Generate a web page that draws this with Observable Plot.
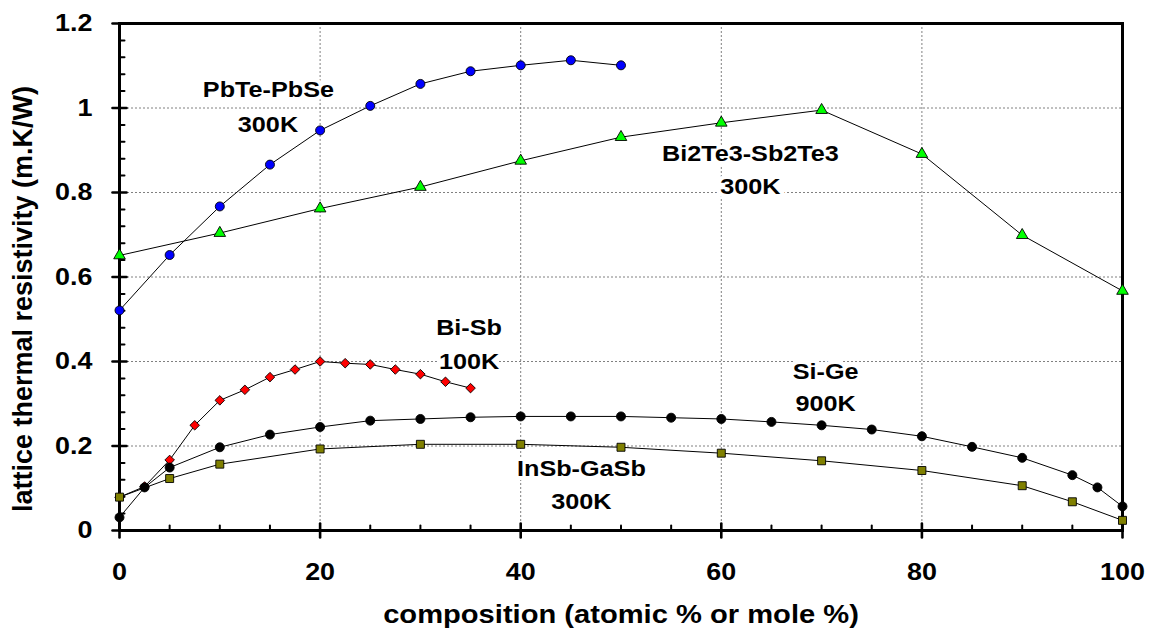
<!DOCTYPE html>
<html>
<head>
<meta charset="utf-8">
<script src="https://cdn.jsdelivr.net/npm/d3@7"></script>
<script src="https://cdn.jsdelivr.net/npm/@observablehq/plot@0.6"></script>
<style>
  body { margin: 0; background: #fff; }
</style>
</head>
<body>
<div id="chart"></div>
<script>
// Lattice thermal resistivity (m.K/W) versus composition for five alloy systems.

// PbTe-PbSe, 300K
const pbteX = [0, 5, 10, 15, 20, 25, 30, 35, 40, 45, 50];
const pbteY = [0.521, 0.652, 0.767, 0.866, 0.947, 1.005, 1.057, 1.087, 1.101, 1.113, 1.101];

// Bi2Te3-Sb2Te3, 300K
const bi2te3X = [0, 10, 20, 30, 40, 50, 60, 70, 80, 90, 100];
const bi2te3Y = [0.651, 0.704, 0.762, 0.813, 0.875, 0.931, 0.965, 0.995, 0.891, 0.699, 0.567];

// Bi-Sb, 100K
const bisbX = [0, 2.5, 5, 7.5, 10, 12.5, 15, 17.5, 20, 22.5, 25, 27.5, 30, 32.5, 35];
const bisbY = [0.079, 0.104, 0.167, 0.249, 0.308, 0.333, 0.363, 0.381, 0.400, 0.396, 0.393, 0.381, 0.370, 0.352, 0.337];

// Si-Ge, 900K
const sigeX = [0, 2.5, 5, 10, 15, 20, 25, 30, 35, 40, 45, 50, 55, 60, 65, 70, 75, 80, 85, 90, 95, 97.5, 100];
const sigeY = [0.031, 0.102, 0.149, 0.197, 0.227, 0.245, 0.260, 0.264, 0.268, 0.270, 0.270, 0.270, 0.267, 0.264, 0.257, 0.249, 0.239, 0.223, 0.198, 0.172, 0.131, 0.102, 0.057];

// InSb-GaSb, 300K
const insbX = [0, 5, 10, 20, 30, 40, 50, 60, 70, 80, 90, 95, 100];
const insbY = [0.079, 0.123, 0.157, 0.193, 0.204, 0.204, 0.197, 0.183, 0.165, 0.142, 0.106, 0.068, 0.024];

// In-plot series annotations (two lines each), placed in data units
const noteText = ["PbTe-PbSe", "300K", "Bi2Te3-Sb2Te3", "300K", "Bi-Sb", "100K", "Si-Ge", "900K", "InSb-GaSb", "300K"];
const noteX = [14.85, 14.8, 62.9, 62.9, 34.85, 34.85, 70.4, 70.4, 46.05, 46.05];
const noteY = [1.044, 0.960, 0.891, 0.813, 0.479, 0.400, 0.376, 0.299, 0.146, 0.067];

// Axis ticks and titles
const xTicks = [0, 20, 40, 60, 80, 100];
const yTicks = [0, 0.2, 0.4, 0.6, 0.8, 1, 1.2];
const xTitle = "composition (atomic % or mole %)";
const yTitle = "lattice thermal resistivity (m.K/W)";

const rows = (xs, ys) => xs.map((x, i) => ({x, y: ys[i]}));
const notes = noteText.map((text, i) => ({text, x: noteX[i], y: noteY[i]}));

// Minor ticks: every 5 % along x, every 0.04 along y
const xMinor = d3.range(5, 100, 5).filter(v => v % 20 !== 0);
const yMinor = d3.range(1, 30).map(i => i * 0.04).filter((v, i) => (i + 1) % 5 !== 0);

// Marker styling per series, drawn in this order
const series = [
  {data: rows(pbteX, pbteY), symbol: "circle", fill: "#0000ff", r: 4.5},
  {data: rows(bi2te3X, bi2te3Y), symbol: "triangle", fill: "#00ff00", r: 4.3},
  {data: rows(bisbX, bisbY), symbol: "diamond2", fill: "#ff0000", r: 4.3},
  {data: rows(sigeX, sigeY), symbol: "circle", fill: "#000000", r: 4.5},
  {data: rows(insbX, insbY), symbol: "square", fill: "#808000", r: 4.5}
];

// A plain straight segment used for the axis tick marks
const tickLine = {draw(context, l) { context.moveTo(0, 0); context.lineTo(0, -l); }};

const gridStyle = {stroke: "#808080", strokeOpacity: 1, strokeWidth: 1, strokeDasharray: "2,2"};

const chart = Plot.plot({
  width: 1152,
  height: 638,
  marginLeft: 119,
  marginRight: 30,
  marginTop: 23,
  marginBottom: 108,
  style: {fontFamily: "'Liberation Sans', Arial, sans-serif", fontWeight: "bold", fontSize: "24px", background: "#fff", color: "#000"},
  x: {domain: [0, 100], ticks: xTicks, tickSize: 0, tickPadding: 32, tickFormat: d => `${d}`, label: null},
  y: {domain: [0, 1.2], ticks: yTicks, tickSize: 0, tickPadding: 27, tickFormat: d => `${d}`, label: null},
  marks: [
    Plot.ruleX(xTicks.filter(v => v > 0 && v < 100), gridStyle),
    Plot.ruleY(yTicks.filter(v => v > 0 && v < 1.2), gridStyle),
    Plot.text(notes, {x: "x", y: "y", text: "text", fontSize: 22.5, fontWeight: "bold", fill: "#000",
      stroke: "#fff", strokeWidth: 8, strokeLinejoin: "round", paintOrder: "stroke"}),
    Plot.frame({stroke: "#000", strokeWidth: 3}),
    // y-axis ticks: majors cross the axis, minors point inward
    Plot.vector(yTicks, {x: () => 0, y: d => d, rotate: 90, length: 14, anchor: "middle", shape: tickLine, stroke: "#000", strokeWidth: 2.6}),
    Plot.vector(yMinor, {x: () => 0, y: d => d, rotate: 90, length: 5, anchor: "start", shape: tickLine, stroke: "#000", strokeWidth: 2}),
    // x-axis ticks
    Plot.vector(xTicks, {x: d => d, y: () => 0, rotate: 0, length: 14, anchor: "middle", shape: tickLine, stroke: "#000", strokeWidth: 2.6}),
    Plot.vector(xMinor, {x: d => d, y: () => 0, rotate: 0, length: 5, anchor: "start", shape: tickLine, stroke: "#000", strokeWidth: 2}),
    // connecting lines, then markers
    ...series.map(s => Plot.line(s.data, {x: "x", y: "y", stroke: "#000", strokeWidth: 1})),
    ...series.map(s => Plot.dot(s.data, {x: "x", y: "y", symbol: s.symbol, r: s.r, fill: s.fill, stroke: "#000", strokeWidth: 0.9})),
    // axis titles
    Plot.text([xTitle], {text: d => d, frameAnchor: "bottom", textAnchor: "middle", dy: 92.7, fontSize: 26, fontWeight: "bold", fill: "#000"}),
    Plot.text([yTitle], {text: d => d, frameAnchor: "left", textAnchor: "middle", rotate: -90, dx: -96, dy: 22, fontSize: 27, fontWeight: "bold", fill: "#000"})
  ]
});

document.getElementById("chart").append(chart);

// Widen the horizontal lettering slightly, as in the original artwork
chart.querySelectorAll("text").forEach(t => {
  const tr = t.getAttribute("transform") || "";
  if (tr.includes("rotate")) return;
  const w = t.getComputedTextLength();
  if (w > 0) {
    t.setAttribute("textLength", (w * 1.12).toFixed(1));
    t.setAttribute("lengthAdjust", "spacingAndGlyphs");
  }
});
</script>
</body>
</html>
